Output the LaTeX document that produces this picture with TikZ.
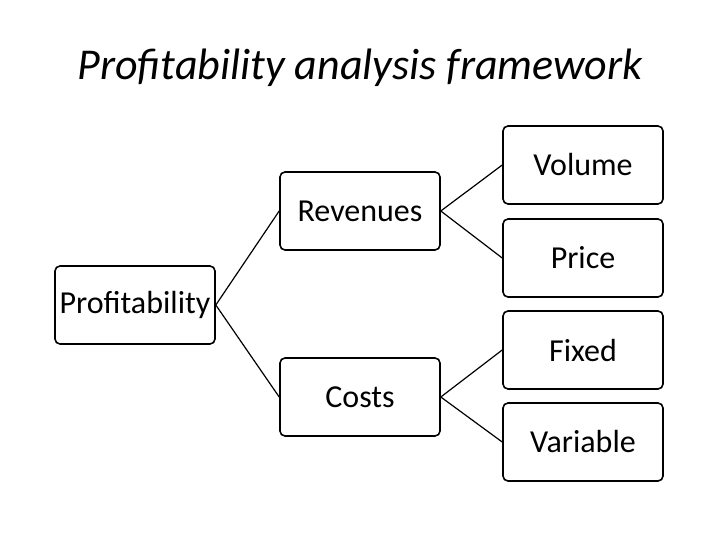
\documentclass[tikz,border=0pt]{standalone}
\usepackage{fontspec}
\setmainfont{Carlito}
\usetikzlibrary{positioning}

\tikzset{
  box/.style={draw, line width=1.6pt, rounded corners=5pt, minimum width=160pt,
    minimum height=78pt, inner sep=0pt, font=\fontsize{32}{36}\selectfont},
  link/.style={line width=1.2pt}
}

\begin{document}
\begin{tikzpicture}[x=1pt,y=1pt]
\useasboundingbox (0,0) rectangle (720,-540);

%title
    \node (title) at (360,-68) {\fontsize{44}{50}\selectfont\itshape Profitability analysis framework};

%draw boxes
    \node[box] (profit) at (135,-305) {Profitability};
    \node[box] (rev) at (360,-211) {Revenues};
    \node[box] (cost) at (360,-397) {Costs};
    \node[box] (vol) at (583,-165) {Volume};
    \node[box] (price) at (583,-258) {Price};
    \node[box] (fixed) at (583,-350) {Fixed};
    \node[box] (var) at (583,-442) {Variable};

%draw connectors
    \draw[link] (profit.east) -- (rev.west);
    \draw[link] (profit.east) -- (cost.west);
    \draw[link] (rev.east) -- (vol.west);
    \draw[link] (rev.east) -- (price.west);
    \draw[link] (cost.east) -- (fixed.west);
    \draw[link] (cost.east) -- (var.west);

\end{tikzpicture}
\end{document}
